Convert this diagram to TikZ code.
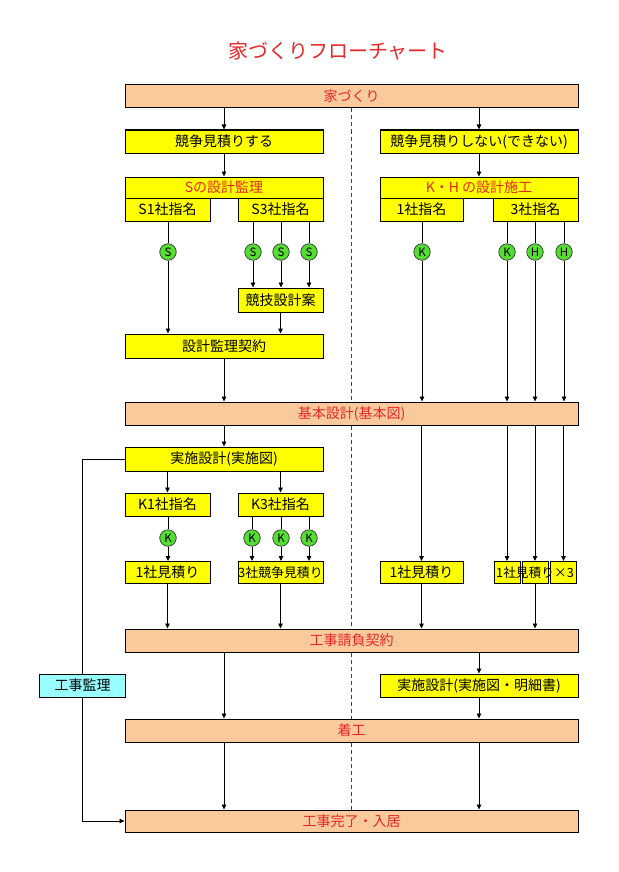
\documentclass[tikz,border=0pt]{standalone}
\usepackage{fontspec}
\setmainfont{Noto Sans CJK JP}
\usetikzlibrary{arrows.meta}
\definecolor{peach}{HTML}{FAC99C}
\definecolor{boxyellow}{HTML}{FFFF00}
\definecolor{lightcyan}{HTML}{99FFFF}
\definecolor{flowred}{HTML}{E62828}
\definecolor{badgegreen}{HTML}{55DD33}
\definecolor{divblue}{HTML}{1F3F99}

\begin{document}
\begin{tikzpicture}[x=1pt, y=-1pt,
    phase/.style={draw=black, fill=peach, minimum width=453pt, minimum height=23pt,
                  inner sep=0pt, text=flowred, font=\fontsize{14}{16}\selectfont, line width=1pt},
    task/.style={draw=black, fill=boxyellow, minimum width=198pt, minimum height=23pt,
                 inner sep=0pt, font=\fontsize{14}{16}\selectfont, line width=1pt},
    half/.style={task, minimum width=85pt},
    badge/.style={circle, draw=black!80, fill=badgegreen, minimum size=16.5pt,
                  inner sep=0pt, font=\fontsize{11.5}{13}\selectfont, line width=0.7pt},
    flow/.style={draw, line width=0.8pt, -{Triangle[length=5pt,width=4.5pt]}},
    link/.style={draw, line width=0.8pt},
    divider/.style={draw=divblue, line width=0.7pt, dash pattern=on 4pt off 3pt},
]
\useasboundingbox (0,0) rectangle (618,872);

% 見出し
\node[text=flowred, font=\fontsize{20}{24}\selectfont] (title) at (338,51) {家づくりフローチャート};

% 上段
\node[phase] (ie) at (351.5,96.5) {家づくり};
\node[task] (suru) at (224,141.5) {競争見積りする};
\node[task] (shinai) at (479,141.5) {競争見積りしない(できない)};
\node[task, minimum height=21pt, text=flowred] (sdesign) at (224,187.5) {Sの設計監理};
\node[task, minimum height=21pt, text=flowred] (khdesign) at (479,187.5) {K・H の設計施工};
\node[half] (s1) at (167.5,209.5) {S1社指名};
\node[half] (s3) at (280.5,209.5) {S3社指名};
\node[half, minimum width=83pt] (k1) at (421.5,209.5) {1社指名};
\node[half] (k3) at (535.5,209.5) {3社指名};

% 指名マーク
\node[badge] (bs1) at (168,252) {S};
\foreach \x/\n in {253/a,281/b,309/c}
    \node[badge] (bs3\n) at (\x,252) {S};
\node[badge] (bk1) at (422,252) {K};
\node[badge] (bk3) at (507,252) {K};
\node[badge] (bh3a) at (535,252) {H};
\node[badge] (bh3b) at (564,252) {H};

\node[half, minimum height=24pt] (giken) at (280.5,300) {競技設計案};
\node[task, minimum height=24pt] (keiyaku) at (224,346) {設計監理契約};
\node[phase] (kihon) at (351.5,413.5) {基本設計(基本図)};

% 実施設計と見積り
\node[task, minimum height=24pt] (jisshi) at (224,459) {実施設計(実施図)};
\node[half] (kk1) at (167.5,504.5) {K1社指名};
\node[half] (kk3) at (280.5,504.5) {K3社指名};
\node[badge] (bkk1) at (168,538) {K};
\foreach \x/\n in {252/a,281/b,309/c}
    \node[badge] (bkk3\n) at (\x,538) {K};
\node[half, minimum height=22pt] (mi1) at (167.5,572.5) {1社見積り};
\node[half, minimum height=22pt, font=\fontsize{12.9}{15}\selectfont] (mi3) at (280.5,572.5) {3社競争見積り};
\node[half, minimum height=22pt, minimum width=83pt] (mr1) at (421.5,572.5) {1社見積り};
\foreach \x/\n in {507/a,535/b,563.5/c}
    \node[task, minimum width=26pt, minimum height=22pt] (mr3\n) at (\x,572.5) {};
\node[inner sep=0pt, font=\fontsize{12.7}{15}\selectfont] (mr3txt) at (535,572.5) {1社見積り×3};

% 下段
\node[phase] (ukeoi) at (351.5,640.5) {工事請負契約};
\node[task, fill=lightcyan, minimum width=86pt] (kanri) at (82.5,685.5) {工事監理};
\node[task] (jisshi2) at (479,685.5) {実施設計(実施図・明細書)};
\node[phase] (chakko) at (351.5,730.5) {着工};
\node[phase, minimum height=22pt] (kanryo) at (351.5,821) {工事完了・入居};

% 中央の区切り線
\foreach \a/\b in {ie/kihon,kihon/ukeoi,ukeoi/chakko,chakko/kanryo}
    \draw[divider] (\a.south) -- (\b.north);

% 接続
\draw[flow] (ie.south -| suru) -- (suru);
\draw[flow] (ie.south -| shinai) -- (shinai);
\draw[flow] (suru) -- (sdesign);
\draw[flow] (shinai) -- (khdesign);

\draw[link] (bs1 |- s1.south) -- (bs1);
\draw[flow] (bs1) -- (bs1 |- keiyaku.north);
\foreach \n in {a,b,c} {
    \draw[link] (bs3\n |- s3.south) -- (bs3\n);
    \draw[flow] (bs3\n) -- (bs3\n |- giken.north);
}
\draw[flow] (giken) -- (giken |- keiyaku.north);
\draw[flow] (keiyaku) -- (keiyaku |- kihon.north);

\draw[link] (bk1 |- k1.south) -- (bk1);
\draw[flow] (bk1) -- (bk1 |- kihon.north);
\foreach \n in {bk3,bh3a,bh3b} {
    \draw[link] (\n |- k3.south) -- (\n);
    \draw[flow] (\n) -- (\n |- kihon.north);
}

\draw[flow] (kihon.south -| jisshi) -- (jisshi);
\draw[flow] (jisshi.south -| kk1) -- (kk1);
\draw[flow] (jisshi.south -| kk3) -- (kk3);
\draw[link] (bkk1 |- kk1.south) -- (bkk1);
\draw[flow] (bkk1) -- (bkk1 |- mi1.north);
\foreach \n in {a,b,c} {
    \draw[link] (bkk3\n |- kk3.south) -- (bkk3\n);
    \draw[flow] (bkk3\n) -- (bkk3\n |- mi3.north);
}
\draw[flow] (mi1) -- (mi1 |- ukeoi.north);
\draw[flow] (mi3) -- (mi3 |- ukeoi.north);

\draw[flow] (kihon.south -| mr1) -- (mr1);
\foreach \n in {a,b,c}
    \draw[flow] (kihon.south -| mr3\n) -- (mr3\n);
\draw[flow] (mr1) -- (mr1 |- ukeoi.north);
\draw[flow] (mr3b.south) -- (mr3b |- ukeoi.north);

\draw[flow] (ukeoi.south -| jisshi) -- (chakko.north -| jisshi);
\draw[flow] (ukeoi.south -| jisshi2) -- (jisshi2);
\draw[flow] (jisshi2) -- (jisshi2 |- chakko.north);
\draw[flow] (chakko.south -| jisshi) -- (kanryo.north -| jisshi);
\draw[flow] (chakko.south -| jisshi2) -- (kanryo.north -| jisshi2);

% 工事監理
\draw[link] (jisshi.west) -| (kanri.north);
\draw[flow] (kanri.south) |- (kanryo.west);

\end{tikzpicture}
\end{document}
